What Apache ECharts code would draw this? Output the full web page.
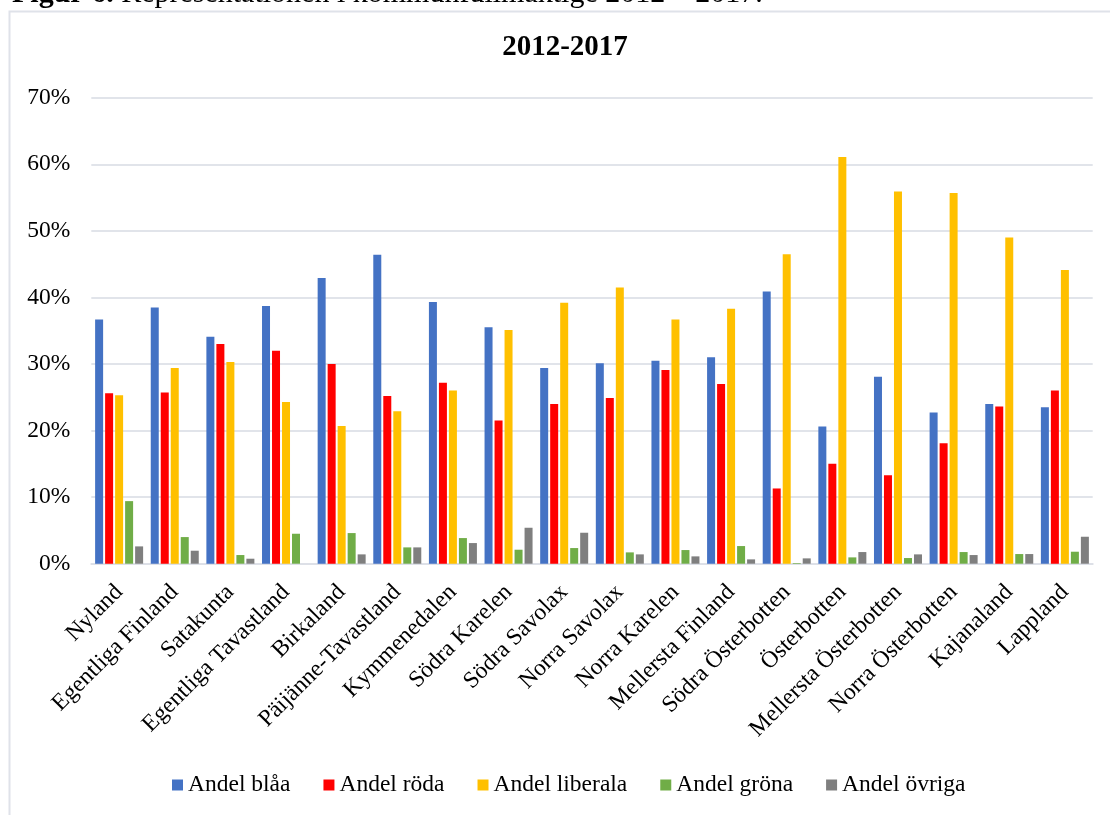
<!DOCTYPE html>
<html>
<head>
<meta charset="utf-8">
<title>Representationen i kommunfullmäktige 2012 – 2017</title>
<script src="https://cdn.jsdelivr.net/npm/echarts@6/dist/echarts.min.js"></script>
<style>
  html, body { margin: 0; padding: 0; background: #fff; }
  #chart { width: 1110px; height: 815px; }
</style>
</head>
<body>
<div id="chart"></div>
<script>
// Regions (landskap)
const regions = [
  'Nyland', 'Egentliga Finland', 'Satakunta', 'Egentliga Tavastland', 'Birkaland',
  'Päijänne-Tavastland', 'Kymmenedalen', 'Södra Karelen', 'Södra Savolax', 'Norra Savolax',
  'Norra Karelen', 'Mellersta Finland', 'Södra Österbotten', 'Österbotten',
  'Mellersta Österbotten', 'Norra Österbotten', 'Kajanaland', 'Lappland'
];

// Share of council seats, percent
const blaa     = [36.7, 38.5, 34.1, 38.7, 42.9, 46.4, 39.3, 35.5, 29.4, 30.1, 30.5, 31.0, 40.9, 20.6, 28.1, 22.7, 24.0, 23.5];
const roda     = [25.6, 25.7, 33.0, 32.0, 30.0, 25.2, 27.2, 21.5, 24.0, 24.9, 29.1, 27.0, 11.3, 15.0, 13.3, 18.1, 23.6, 26.0];
const liberala = [25.3, 29.4, 30.3, 24.3, 20.7, 22.9, 26.0, 35.1, 39.2, 41.5, 36.7, 38.3, 46.5, 61.1, 55.9, 55.7, 49.0, 44.1];
const grona    = [9.4, 4.0, 1.3, 4.5, 4.6, 2.45, 3.85, 2.1, 2.35, 1.7, 2.05, 2.65, 0.1, 0.95, 0.85, 1.75, 1.45, 1.8];
const ovriga   = [2.6, 1.95, 0.75, 0.0, 1.4, 2.45, 3.1, 5.4, 4.65, 1.4, 1.1, 0.65, 0.8, 1.75, 1.4, 1.3, 1.45, 4.05];

const seriesNames = ['Andel blåa', 'Andel röda', 'Andel liberala', 'Andel gröna', 'Andel övriga'];
const seriesData = [blaa, roda, liberala, grona, ovriga];
const seriesColors = ['#4472C4', '#FF0000', '#FFC000', '#70AD47', '#7F7F7F'];

const yTicks = { min: 0, max: 70, interval: 10 };

const serif = '"Liberation Serif", "Times New Roman", "DejaVu Serif", serif';

const chart = echarts.init(document.getElementById('chart'), null, { renderer: 'canvas' });

chart.setOption({
  backgroundColor: '#ffffff',
  animation: false,
  textStyle: { fontFamily: serif, color: '#000' },
  graphic: [
    {
      // chart frame
      type: 'rect',
      shape: { x: 9.5, y: 11.5, width: 1120, height: 830 },
      style: { fill: 'none', stroke: '#dfe2e9', lineWidth: 2 },
      silent: true
    },
    {
      // figure caption above the frame
      type: 'text',
      left: 12,
      top: -21,
      style: {
        text: '{b|Figur 6.} Representationen i kommunfullmäktige 2012 – 2017.',
        font: '30px ' + serif,
        fill: '#000',
        rich: {
          b: { fontWeight: 'bold', fontSize: 30, fontFamily: serif, fill: '#000' }
        }
      },
      silent: true
    },
    {
      // chart title
      type: 'text',
      x: 565,
      y: 48,
      style: {
        text: '2012-2017',
        font: 'bold 29px ' + serif,
        fill: '#000',
        align: 'center',
        verticalAlign: 'middle'
      },
      silent: true
    }
  ],
  legend: {
    data: seriesNames,
    left: 167,
    top: 768,
    itemWidth: 11,
    itemHeight: 11,
    itemGap: 33,
    icon: 'rect',
    textStyle: { fontFamily: serif, fontSize: 23.5, color: '#000' }
  },
  grid: {
    left: 91.3,
    right: 17.3,
    top: 97.7,
    bottom: 251.3,
    containLabel: false
  },
  xAxis: {
    type: 'category',
    data: regions,
    axisTick: { show: false },
    axisLine: { lineStyle: { color: '#dde0e7', width: 2 } },
    axisLabel: {
      interval: 0,
      rotate: 45,
      margin: 25,
      fontFamily: serif,
      fontSize: 23.5,
      color: '#000'
    }
  },
  yAxis: {
    type: 'value',
    min: yTicks.min,
    max: yTicks.max,
    interval: yTicks.interval,
    axisLine: { show: false },
    axisTick: { show: false },
    splitLine: { lineStyle: { color: '#e1e4ea', width: 2 } },
    axisLabel: {
      formatter: '{value}%',
      margin: 21,
      fontFamily: serif,
      fontSize: 23.5,
      color: '#000'
    }
  },
  series: seriesNames.map((name, i) => ({
    name,
    type: 'bar',
    data: seriesData[i],
    barWidth: 8,
    barGap: '25%',
    itemStyle: { color: seriesColors[i] }
  }))
});
</script>
</body>
</html>
